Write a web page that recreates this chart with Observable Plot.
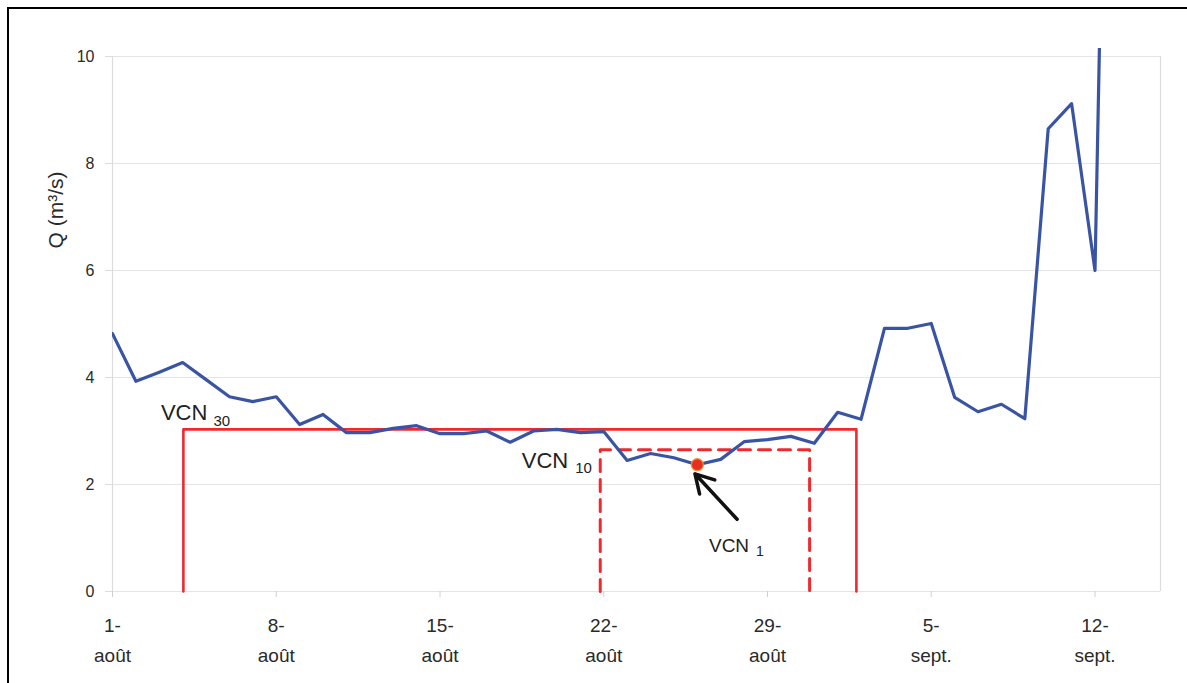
<!DOCTYPE html>
<html><head><meta charset="utf-8">
<script src="https://cdn.jsdelivr.net/npm/d3@7"></script>
<script src="https://cdn.jsdelivr.net/npm/@observablehq/plot@0.6"></script>
<style>
html,body{margin:0;padding:0;background:#fff;overflow:hidden;}
#wrap{position:relative;width:1187px;height:683px;overflow:hidden;}
#border{position:absolute;left:7px;top:7px;width:1300px;height:800px;border-top:2.5px solid #000;border-left:2.5px solid #000;}
#chart{position:absolute;left:0;top:0;}
</style></head><body>
<div id="wrap"><div id="chart"></div><div id="border"></div></div>
<script>
// Daily discharge, day 1 = 1 août
const days = d3.range(1, 45);
const flow = [4.82, 3.93, 4.10, 4.28, 3.96, 3.64, 3.55, 3.64, 3.12, 3.31,
              2.97, 2.97, 3.05, 3.10, 2.95, 2.95, 3.00, 2.79, 3.00, 3.03,
              2.97, 2.99, 2.45, 2.58, 2.50, 2.37, 2.47, 2.80, 2.84, 2.90,
              2.77, 3.35, 3.22, 4.92, 4.92, 5.01, 3.63, 3.36, 3.50, 3.23,
              8.65, 9.12, 6.00, 28.0];
const tickDays = [1, 8, 15, 22, 29, 36, 43];
const tickLabels = ["1-\naoût", "8-\naoût", "15-\naoût", "22-\naoût", "29-\naoût", "5-\nsept.", "12-\nsept."];
const yTicks = [0, 2, 4, 6, 8, 10];
const vcn30 = {start: 4.03, end: 32.8, value: 3.03};
const vcn10 = {start: 21.85, end: 30.8, value: 2.65};
const vcn1 = {day: 26, value: 2.37};
const arrowFrom = {day: 27.7, value: 1.35};
const arrowTo = {day: 25.9, value: 2.2};
const yLabel = "Q (m³/s)";

const data = days.map((d, i) => ({day: d, q: flow[i]}));
const labelMap = new Map(tickDays.map((d, i) => [d, tickLabels[i]]));
const box = v => [[v.start, 0], [v.start, v.value], [v.end, v.value], [v.end, 0]];
const xDomain = [1, 45.8];

const red = "#ee2a2e";
const font = "'Liberation Sans', Arial, sans-serif";

const chart = Plot.plot({
  width: 1187, height: 683,
  marginLeft: 112, marginRight: 27, marginTop: 48, marginBottom: 92,
  style: {fontFamily: font, fontSize: "16px", background: "transparent", color: "#2a2a2a"},
  x: {domain: xDomain},
  y: {domain: [0, 10.15]},
  marks: [
    Plot.ruleY(yTicks, {stroke: "#e4e4e4", strokeWidth: 1.2}),
    Plot.ruleX(xDomain, {y1: 0, y2: 10, stroke: "#dcdcdc", strokeWidth: 1.2}),
    Plot.axisY({ticks: yTicks, tickSize: 7, tickPadding: 11, fontSize: 16, stroke: "#dcdcdc", fill: "#2a2a2a", label: null}),
    Plot.axisX({ticks: tickDays, tickFormat: d => labelMap.get(d), tickSize: 6, tickPadding: 13,
                fontSize: 19, lineHeight: 1.58, stroke: "#d0d0d0", fill: "#2a2a2a", label: null}),
    Plot.line(box(vcn30), {stroke: red, strokeWidth: 2.6}),
    Plot.line(box(vcn10), {stroke: red, strokeWidth: 3, strokeDasharray: "12,8"}),
    Plot.line(data, {x: "day", y: "q", stroke: "#3a54a4", strokeWidth: 3.2, clip: true}),
    Plot.dot([vcn1], {x: "day", y: "value", r: 6, fill: "#e6301f", stroke: "#f3903a", strokeWidth: 1.2}),
    Plot.arrow([{x1: arrowFrom.day, y1: arrowFrom.value, x2: arrowTo.day, y2: arrowTo.value}],
               {x1: "x1", y1: "y1", x2: "x2", y2: "y2", stroke: "#111", strokeWidth: 3.5, headLength: 14}),
    // VCN30 label
    Plot.text([vcn30], {x: "start", y: "value", text: () => "VCN", textAnchor: "end", dx: 24, dy: -16, fontSize: 22, fill: "#222"}),
    Plot.text([vcn30], {x: "start", y: "value", text: () => "30", textAnchor: "start", dx: 30, dy: -8, fontSize: 15, fill: "#222"}),
    // VCN10 label
    Plot.text([vcn10], {x: "start", y: "value", text: () => "VCN", textAnchor: "end", dx: -32, dy: 11, fontSize: 22, fill: "#222"}),
    Plot.text([vcn10], {x: "start", y: "value", text: () => "10", textAnchor: "start", dx: -25, dy: 18, fontSize: 15, fill: "#222"}),
    // VCN1 label
    Plot.text([arrowFrom], {x: "day", y: "value", text: () => "VCN", textAnchor: "end", dx: 12, dy: 27, fontSize: 19, fill: "#222"}),
    Plot.text([arrowFrom], {x: "day", y: "value", text: () => "1", textAnchor: "start", dx: 19, dy: 32, fontSize: 14, fill: "#222"}),
    // Y axis label
    Plot.text([yLabel], {frameAnchor: "left", textAnchor: "middle", dx: -56, dy: -110, rotate: -90, fontSize: 21, fill: "#2a2a2a"})
  ]
});
document.getElementById("chart").appendChild(chart);
</script>
</body></html>
